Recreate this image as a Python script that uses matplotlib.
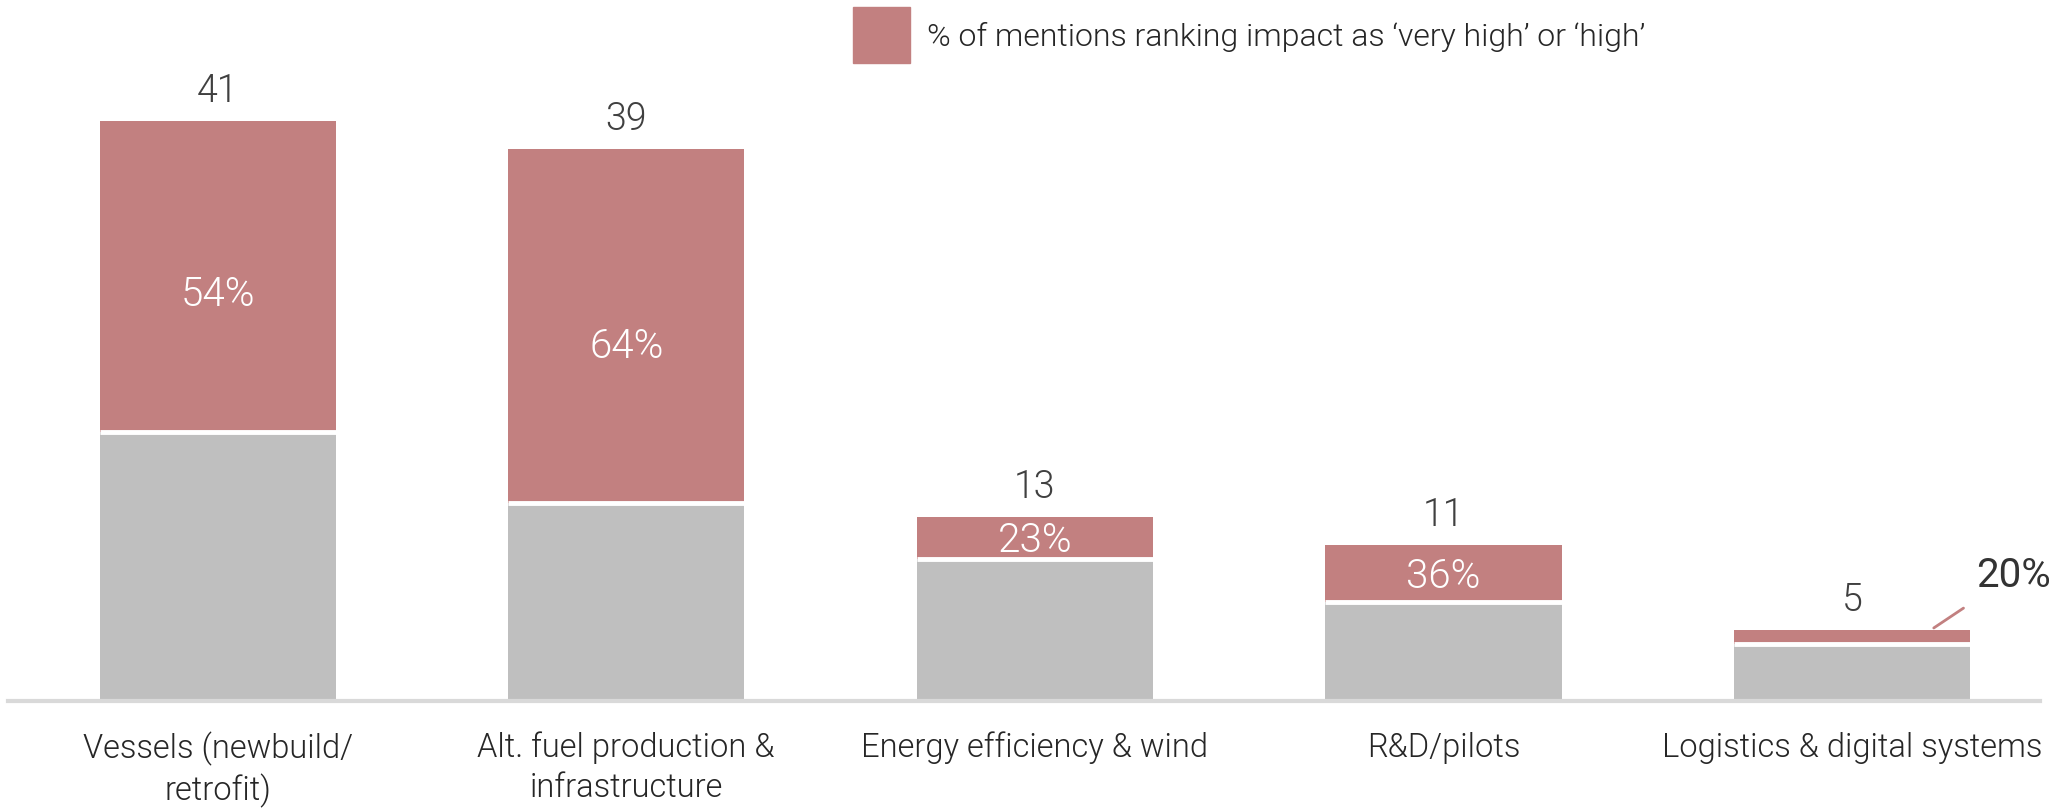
import numpy as np
import matplotlib
matplotlib.use("Agg")
import matplotlib.pyplot as plt
from matplotlib.patches import Rectangle

plt.rcParams['font.family'] = ['Roboto', 'DejaVu Sans']
plt.rcParams['font.weight'] = 300

categories = ["Vessels (newbuild/\nretrofit)", "Alt. fuel production &\ninfrastructure",
              "Energy efficiency & wind", "R&D/pilots", "Logistics & digital systems"]
totals = [41, 39, 13, 11, 5]
high = [22, 25, 3, 4, 1]
pct_labels = ["54%", "64%", "23%", "36%", "20%"]
legend_label = "% of mentions ranking impact as \u2018very high\u2019 or \u2018high\u2019"

red = "#c28080"
grey = "#bfbfbf"
dark = "#404040"

W, H = 2067, 808
fig = plt.figure(figsize=(W / 100, H / 100), dpi=100)
ax = fig.add_axes([8 / W, (H - 701) / H, 2032 / W, (701 - 40) / H])

x = np.arange(len(categories))
rest = [t - h for t, h in zip(totals, high)]
width = 0.578
ax.bar(x, rest, width, color=grey)
ax.bar(x, high, width, bottom=rest, color=red)
ax.hlines(rest, x - width / 2, x + width / 2, colors="white", linewidth=3.5)

ax.set_xlim(-0.513, 4.46)
ax.set_ylim(0, 46.7)

for i, t in enumerate(totals):
    ax.text(x[i], t + 2.1, str(t), ha="center", va="center", fontsize=27, color=dark)

for i in range(4):
    ax.text(x[i], rest[i] + high[i] * 0.44, pct_labels[i], ha="center", va="center",
            fontsize=29, color="white")

ax.annotate(pct_labels[4], xy=(4.2, 5.16), xytext=(4.394, 8.9), ha="center", va="center",
            fontsize=29, color="#333333", fontweight="normal",
            arrowprops=dict(arrowstyle="-", color=red, lw=2, shrinkA=14, shrinkB=0))

for s in ["top", "right", "left"]:
    ax.spines[s].set_visible(False)
ax.spines["bottom"].set_color("#d9d9d9")
ax.spines["bottom"].set_linewidth(3)
ax.set_yticks([])
ax.set_xticks(x)
ax.set_xticklabels(categories, fontsize=23.5, color="#262626", linespacing=1.3, va="top")
ax.tick_params(axis="x", length=0, pad=22)

# legend
fig.add_artist(Rectangle((853 / W, (H - 63) / H), 57 / W, 56 / H, transform=fig.transFigure,
                         color=red))
fig.text(927 / W, (H - 37) / H, legend_label, ha="left", va="center", fontsize=23, color="#262626")

fig.savefig("out.png", dpi=100)
